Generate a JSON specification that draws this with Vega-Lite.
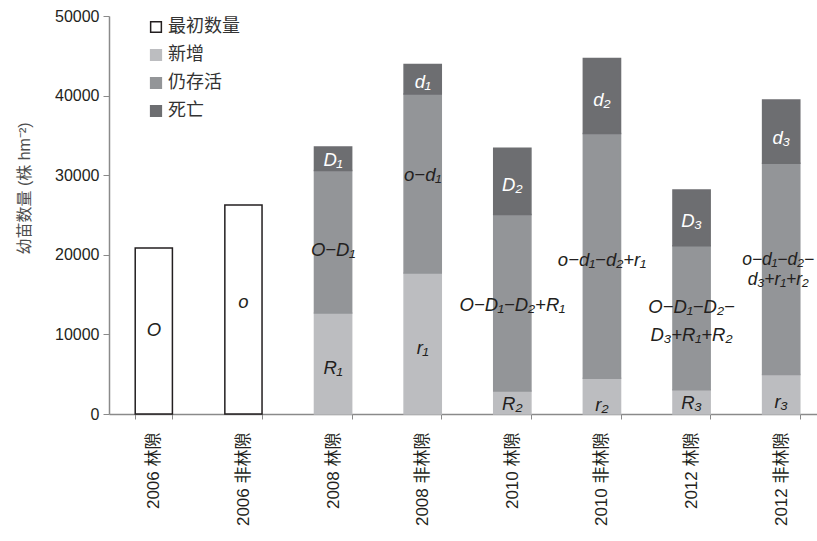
{
  "$schema": "https://vega.github.io/schema/vega-lite/v6.json",
  "width": 717,
  "height": 398,
  "autosize": "none",
  "padding": {"left": 109, "top": 16, "right": 0, "bottom": 127},
  "background": "white",
  "config": {"view": {"stroke": null}, "font": "'Liberation Sans', 'Noto Sans CJK SC'"},
  "datasets": {
    "bars": [
      {"组": "2006 林隙", "类型": "最初数量", "值": 20850},
      {"组": "2006 非林隙", "类型": "最初数量", "值": 26250},
      {"组": "2008 林隙", "类型": "新增", "值": 12700},
      {"组": "2008 林隙", "类型": "仍存活", "值": 17900},
      {"组": "2008 林隙", "类型": "死亡", "值": 2950},
      {"组": "2008 非林隙", "类型": "新增", "值": 17700},
      {"组": "2008 非林隙", "类型": "仍存活", "值": 22500},
      {"组": "2008 非林隙", "类型": "死亡", "值": 3700},
      {"组": "2010 林隙", "类型": "新增", "值": 2900},
      {"组": "2010 林隙", "类型": "仍存活", "值": 22150},
      {"组": "2010 林隙", "类型": "死亡", "值": 8350},
      {"组": "2010 非林隙", "类型": "新增", "值": 4500},
      {"组": "2010 非林隙", "类型": "仍存活", "值": 30750},
      {"组": "2010 非林隙", "类型": "死亡", "值": 9400},
      {"组": "2012 林隙", "类型": "新增", "值": 3050},
      {"组": "2012 林隙", "类型": "仍存活", "值": 18100},
      {"组": "2012 林隙", "类型": "死亡", "值": 7000},
      {"组": "2012 非林隙", "类型": "新增", "值": 4950},
      {"组": "2012 非林隙", "类型": "仍存活", "值": 26550},
      {"组": "2012 非林隙", "类型": "死亡", "值": 7950}
    ],
    "labels": [
      {"组": "2006 林隙", "段": "最初数量", "文字": "O", "值": 10500},
      {"组": "2006 非林隙", "段": "最初数量", "文字": "o", "值": 14100},
      {"组": "2008 林隙", "段": "新增", "文字": "R₁", "值": 5800},
      {"组": "2008 林隙", "段": "仍存活", "文字": "O−D₁", "值": 20600},
      {"组": "2008 林隙", "段": "死亡", "文字": "D₁", "值": 31900},
      {"组": "2008 非林隙", "段": "新增", "文字": "r₁", "值": 8300},
      {"组": "2008 非林隙", "段": "仍存活", "文字": "o−d₁", "值": 30000},
      {"组": "2008 非林隙", "段": "死亡", "文字": "d₁", "值": 41750},
      {"组": "2010 林隙", "段": "新增", "文字": "R₂", "值": 1250},
      {"组": "2010 林隙", "段": "仍存活", "文字": "O−D₁−D₂+R₁", "值": 13700},
      {"组": "2010 林隙", "段": "死亡", "文字": "D₂", "值": 28800},
      {"组": "2010 非林隙", "段": "新增", "文字": "r₂", "值": 1150},
      {"组": "2010 非林隙", "段": "仍存活", "文字": "o−d₁−d₂+r₁", "值": 19350},
      {"组": "2010 非林隙", "段": "死亡", "文字": "d₂", "值": 39450},
      {"组": "2012 林隙", "段": "新增", "文字": "R₃", "值": 1400},
      {"组": "2012 林隙", "段": "仍存活", "文字": "O−D₁−D₂−", "值": 13500},
      {"组": "2012 林隙", "段": "仍存活", "文字": "D₃+R₁+R₂", "值": 9950},
      {"组": "2012 林隙", "段": "死亡", "文字": "D₃", "值": 24200},
      {"组": "2012 非林隙", "段": "新增", "文字": "r₃", "值": 1550},
      {"组": "2012 非林隙", "段": "仍存活", "文字": "o−d₁−d₂−", "值": 19350},
      {"组": "2012 非林隙", "段": "仍存活", "文字": "d₃+r₁+r₂", "值": 16850},
      {"组": "2012 非林隙", "段": "死亡", "文字": "d₃", "值": 34700}
    ]
  },
  "encoding": {
    "x": {
      "field": "组",
      "type": "nominal",
      "sort": ["2006 林隙", "2006 非林隙", "2008 林隙", "2008 非林隙", "2010 林隙", "2010 非林隙", "2012 林隙", "2012 非林隙"],
      "scale": {"paddingInner": 0.585, "paddingOuter": 0.2925},
      "axis": {
        "title": null,
        "labelAngle": -90,
        "labelAlign": "right",
        "labelBaseline": "middle",
        "tickBand": "extent",
        "domainColor": "#8a8a8a",
        "domainWidth": 1.5,
        "tickColor": "#8a8a8a",
        "tickWidth": 1,
        "tickSize": 5,
        "labelFontSize": 17,
        "labelColor": "#231f20",
        "labelPadding": 13
      }
    }
  },
  "layer": [
    {
      "data": {"name": "bars"},
      "transform": [{"calculate": "indexof(['最初数量','新增','仍存活','死亡'], datum['类型'])", "as": "层序"}],
      "mark": {"type": "bar", "strokeWidth": 1.5},
      "encoding": {
        "y": {
          "field": "值",
          "type": "quantitative",
          "stack": "zero",
          "scale": {"domain": [0, 50000]},
          "axis": {
            "values": [0, 10000, 20000, 30000, 40000, 50000],
            "format": "d",
            "grid": false,
            "title": "幼苗数量 (株 hm⁻²)",
            "titleFontSize": 16,
            "titleFontWeight": "normal",
            "titleColor": "#4d4d4d",
            "titlePadding": 22,
            "titleY": 172,
            "labelFontSize": 16,
            "labelColor": "#231f20",
            "domainColor": "#8a8a8a",
            "domainWidth": 1.5,
            "tickColor": "#8a8a8a",
            "tickSize": 6,
            "labelPadding": 4
          }
        },
        "order": {"field": "层序", "type": "quantitative", "sort": "ascending"},
        "fill": {
          "field": "类型",
          "type": "nominal",
          "sort": ["最初数量", "新增", "仍存活", "死亡"],
          "scale": {"domain": ["最初数量", "新增", "仍存活", "死亡"], "range": ["#ffffff", "#bcbdc0", "#939598", "#6d6e71"]},
          "legend": {"title": null, "orient": "none", "legendX": 38, "legendY": 2, "symbolType": "square", "symbolSize": 115, "symbolStrokeWidth": 1.5, "labelFontSize": 18, "labelColor": "#333333", "rowPadding": 10, "labelOffset": 3}
        },
        "stroke": {
          "field": "类型",
          "type": "nominal",
          "sort": ["最初数量", "新增", "仍存活", "死亡"],
          "scale": {"domain": ["最初数量", "新增", "仍存活", "死亡"], "range": ["#231f20", "#bcbdc0", "#939598", "#6d6e71"]},
          "legend": {"title": null, "orient": "none", "legendX": 38, "legendY": 2, "symbolType": "square", "symbolSize": 115, "symbolStrokeWidth": 1.5, "labelFontSize": 18, "labelColor": "#333333", "rowPadding": 10, "labelOffset": 3}
        }
      }
    },
    {
      "data": {"name": "labels"},
      "transform": [{"filter": "datum['段'] != '死亡' && !(datum['组'] == '2012 非林隙' && datum['段'] == '仍存活')"}],
      "mark": {"type": "text", "fontStyle": "italic", "fontSize": 18.5, "color": "#231f20", "font": "Liberation Sans"},
      "encoding": {
        "y": {"field": "值", "type": "quantitative", "axis": {"title": "幼苗数量 (株 hm⁻²)"}},
        "text": {"field": "文字", "type": "nominal"}
      }
    },
    {
      "data": {"name": "labels"},
      "transform": [{"filter": "datum['组'] == '2012 非林隙' && datum['段'] == '仍存活'"}],
      "mark": {"type": "text", "fontStyle": "italic", "fontSize": 17.5, "dx": -3, "color": "#231f20", "font": "Liberation Sans"},
      "encoding": {
        "y": {"field": "值", "type": "quantitative", "axis": {"title": "幼苗数量 (株 hm⁻²)"}},
        "text": {"field": "文字", "type": "nominal"}
      }
    },
    {
      "data": {"name": "labels"},
      "transform": [{"filter": "datum['段'] == '死亡'"}],
      "mark": {"type": "text", "fontStyle": "italic", "fontSize": 18.5, "color": "#ffffff", "font": "Liberation Sans"},
      "encoding": {
        "y": {"field": "值", "type": "quantitative", "axis": {"title": "幼苗数量 (株 hm⁻²)"}},
        "text": {"field": "文字", "type": "nominal"}
      }
    }
  ]
}
